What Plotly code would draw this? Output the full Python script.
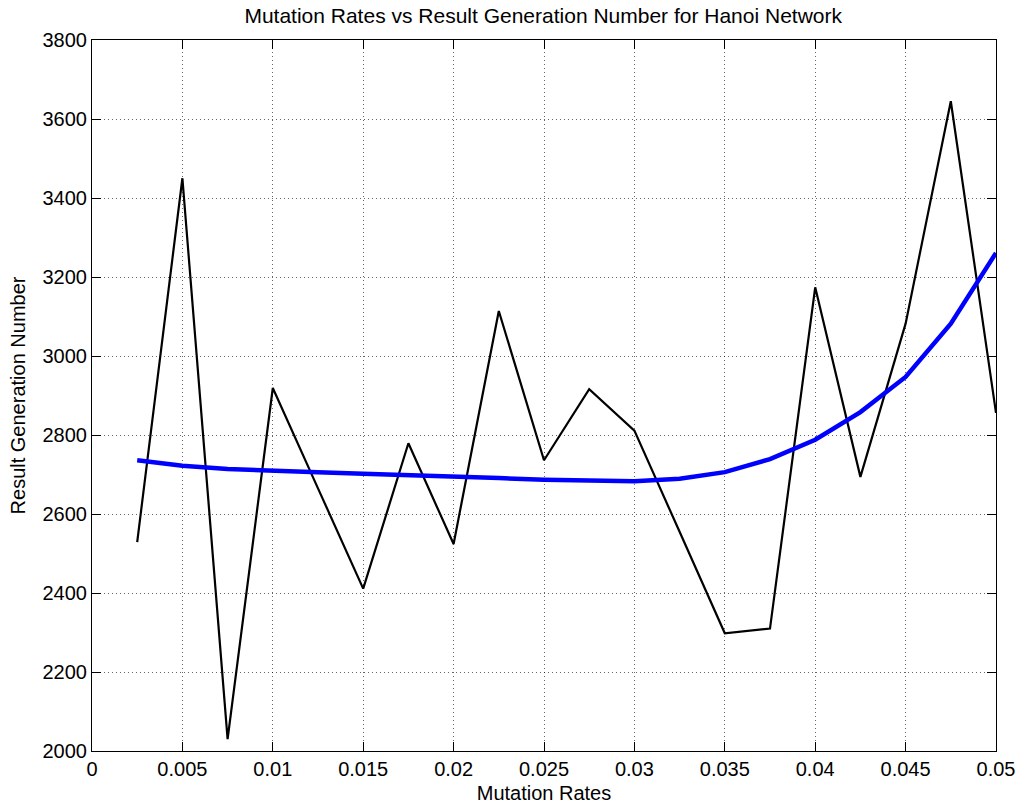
import plotly.graph_objects as go

mutation_rates = [0.0025, 0.005, 0.0075, 0.01, 0.0125, 0.015, 0.0175, 0.02, 0.0225, 0.025,
                  0.0275, 0.03, 0.0325, 0.035, 0.0375, 0.04, 0.0425, 0.045, 0.0475, 0.05]
result_generations = [2529, 3450, 2030, 2919, 2665, 2411, 2779, 2524, 3114, 2736,
                      2916, 2811, 2555, 2298, 2310, 3174, 2694, 3082, 3645, 2856]
fit_values = [2736, 2722, 2714, 2709, 2706, 2702, 2699, 2696, 2691, 2687,
              2684, 2683, 2689, 2706, 2739, 2788, 2858, 2947, 3082, 3261]

x_ticks = [0, 0.005, 0.01, 0.015, 0.02, 0.025, 0.03, 0.035, 0.04, 0.045, 0.05]
x_tick_labels = ["0", "0.005", "0.01", "0.015", "0.02", "0.025", "0.03", "0.035", "0.04", "0.045", "0.05"]
y_ticks = [2000, 2200, 2400, 2600, 2800, 3000, 3200, 3400, 3600, 3800]
y_tick_labels = [str(v) for v in y_ticks]

fig = go.Figure()
fig.add_trace(go.Scatter(x=mutation_rates, y=result_generations, mode="lines",
                         line=dict(color="black", width=2.2), showlegend=False))
fig.add_trace(go.Scatter(x=mutation_rates, y=fit_values, mode="lines",
                         line=dict(color="rgb(0,0,255)", width=4.5), showlegend=False))

font_family = "Liberation Sans, Arial, sans-serif"
axis_common = dict(
    showline=True, linecolor="black", linewidth=1, mirror="allticks",
    ticks="inside", ticklen=9, tickcolor="black",
    showgrid=True, gridcolor="rgba(0,0,0,0.6)", griddash="1px,3px", gridwidth=1,
    zeroline=False, automargin=False,
    tickfont=dict(family=font_family, size=20, color="black"),
)

fig.update_layout(
    width=1022, height=807,
    margin=dict(l=92, r=26, t=40, b=56),
    paper_bgcolor="white", plot_bgcolor="white",
    title=dict(text="Mutation Rates vs Result Generation Number for Hanoi Network",
               x=0.5315, xanchor="center", y=0.98, yanchor="middle",
               font=dict(family=font_family, size=21, color="black")),
    xaxis=dict(range=[0, 0.05], tickvals=x_ticks, ticktext=x_tick_labels,
               title=dict(text="Mutation Rates", standoff=6,
                          font=dict(family=font_family, size=20, color="black")),
               **axis_common),
    yaxis=dict(range=[2000, 3800], tickvals=y_ticks, ticktext=y_tick_labels,
               title=dict(text="Result Generation Number", standoff=11,
                          font=dict(family=font_family, size=20, color="black")),
               **axis_common),
)

fig.write_html("out.html")
